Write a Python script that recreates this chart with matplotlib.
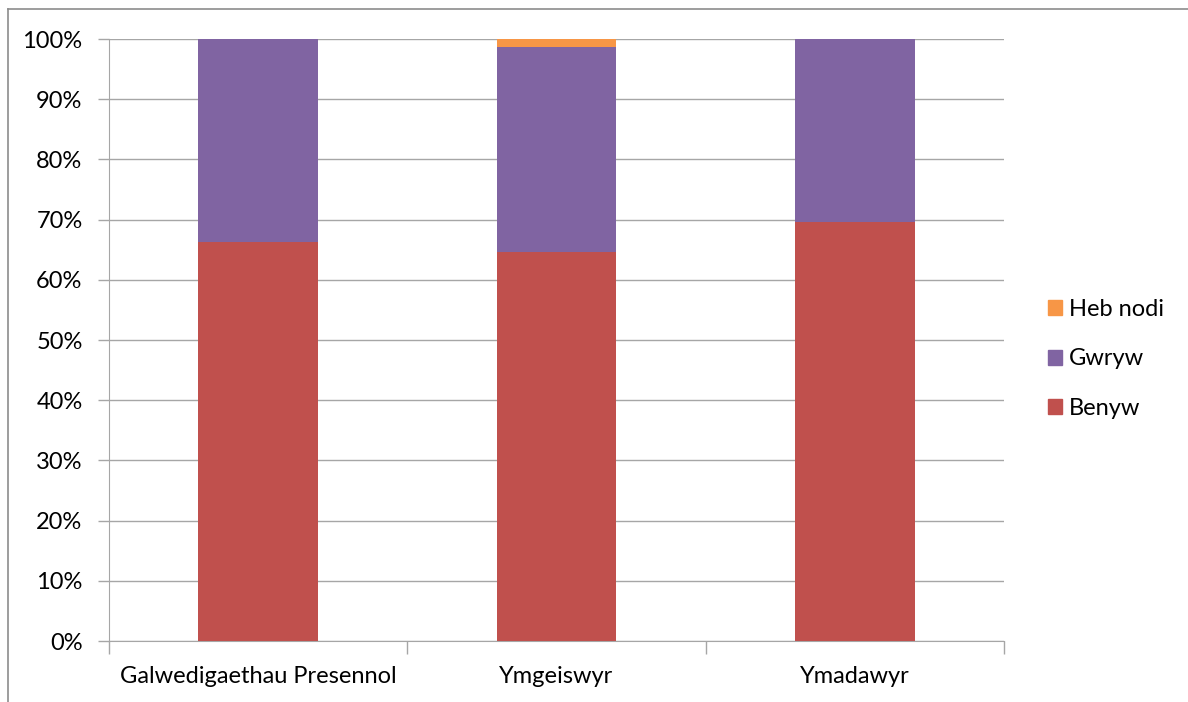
import numpy as np
import matplotlib.pyplot as plt
from matplotlib.patches import Patch
from matplotlib.lines import Line2D

plt.rcParams['font.family'] = ['Lato', 'DejaVu Sans']

categories = ['Galwedigaethau Presennol', 'Ymgeiswyr', 'Ymadawyr']
benyw = [66.3, 64.6, 69.6]
gwryw = [33.7, 34.1, 30.4]
heb_nodi = [0.0, 1.3, 0.0]

c_benyw = '#C0504D'
c_gwryw = '#8064A2'
c_heb = '#F79646'
grid_c = '#A6A6A6'
fs = 17

fig = plt.figure(figsize=(11.88, 7.02), dpi=100)
ax = fig.add_axes([109/1188, 1 - 641/702, (1004-109)/1188, (641-39)/702])

x = np.arange(len(categories))
w = 0.4
ax.bar(x, benyw, w, color=c_benyw, label='Benyw', zorder=3)
ax.bar(x, gwryw, w, bottom=benyw, color=c_gwryw, label='Gwryw', zorder=3)
ax.bar(x, heb_nodi, w, bottom=np.add(benyw, gwryw), color=c_heb, label='Heb nodi', zorder=3)

ax.set_xlim(-0.5, len(categories) - 0.5)
ax.set_ylim(0, 100)
ax.set_yticks(np.arange(0, 101, 10))
ax.set_yticklabels([f'{v}%' for v in range(0, 101, 10)], fontsize=fs)
ax.yaxis.grid(True, color=grid_c, linewidth=1, zorder=0)

ax.set_xticks(x)
ax.set_xticklabels(categories, fontsize=fs)
ax.tick_params(axis='x', length=0, pad=18)
ax.set_xticks(np.arange(-0.5, len(categories)), minor=True)
ax.tick_params(axis='x', which='minor', length=9, color=grid_c, width=1)
ax.tick_params(axis='y', length=8, color=grid_c, width=1, pad=11)

for s in ['top', 'right']:
    ax.spines[s].set_visible(False)
ax.spines['left'].set_color(grid_c)
ax.spines['bottom'].set_color(grid_c)

handles = [Patch(color=c_heb, label='Heb nodi'),
           Patch(color=c_gwryw, label='Gwryw'),
           Patch(color=c_benyw, label='Benyw')]
fig.legend(handles=handles, loc='center left', bbox_to_anchor=(1036/1188, 1 - 359/702),
           frameon=False, fontsize=fs, handlelength=0.6, handleheight=0.6,
           handletextpad=0.3, labelspacing=1.22, borderpad=0)

# outer chart frame (top and left edges visible)
fig.add_artist(Line2D([8/1188, 1], [1 - 9/702, 1 - 9/702], color='#8C8C8C', lw=1.2))
fig.add_artist(Line2D([8/1188, 8/1188], [0, 1 - 9/702], color='#8C8C8C', lw=1.2))

fig.savefig('out.png', dpi=100)
